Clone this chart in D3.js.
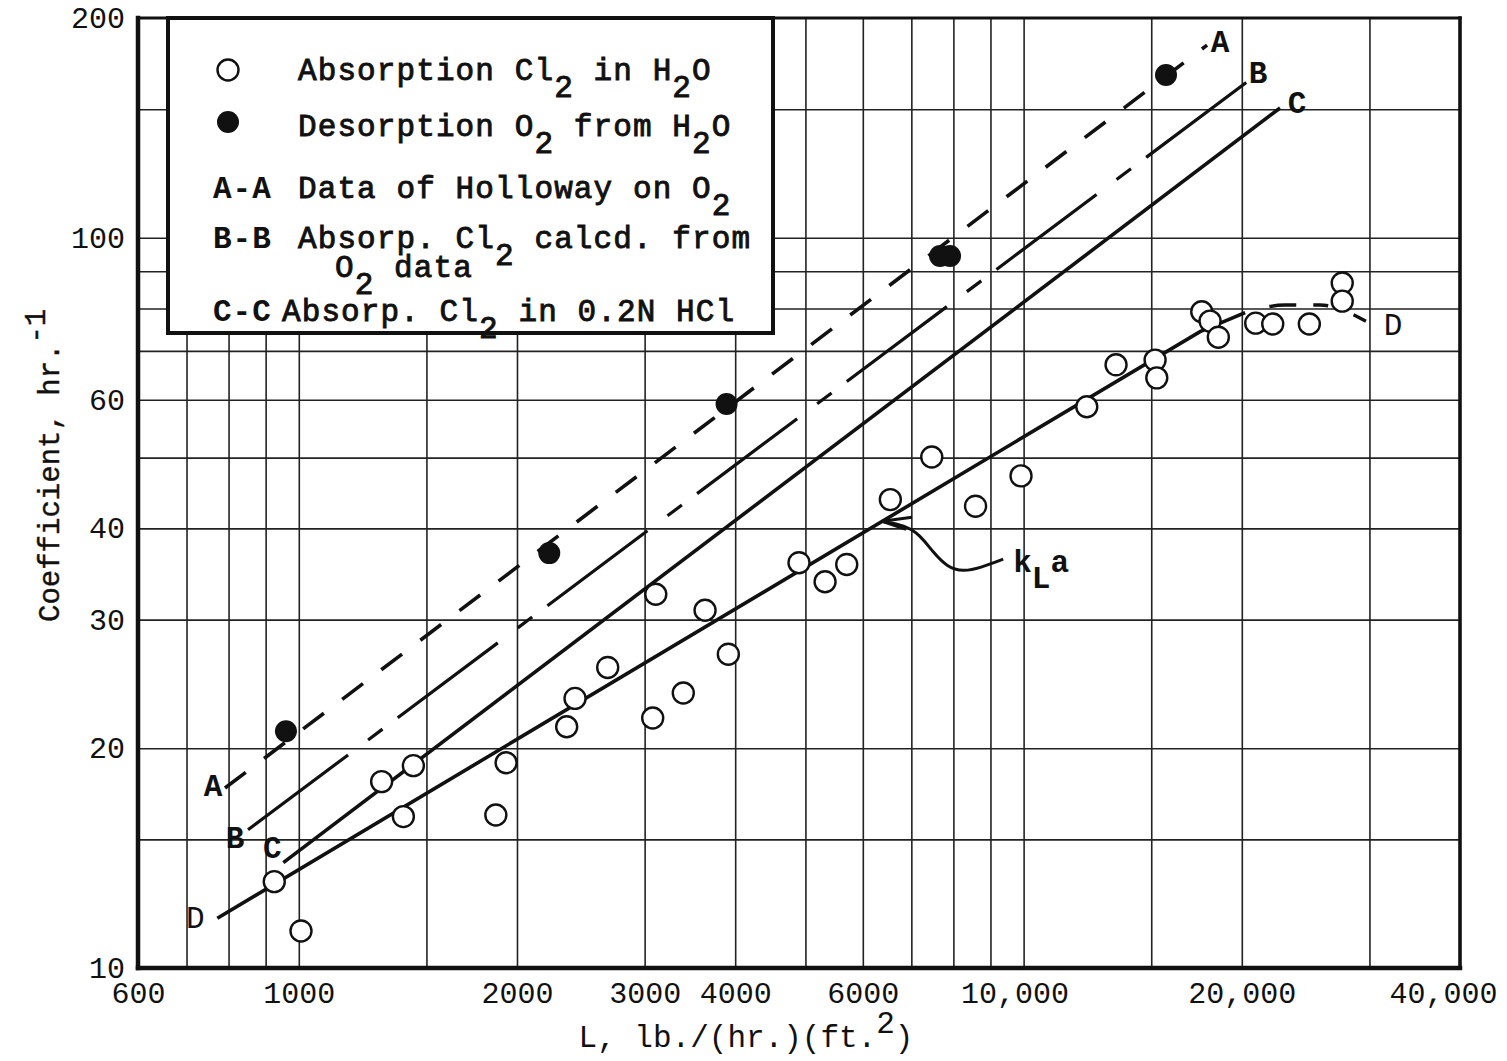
<!DOCTYPE html>
<html>
<head>
<meta charset="utf-8">
<script src="https://cdn.jsdelivr.net/npm/d3@7"></script>
<style>
  html, body { margin: 0; padding: 0; background: #fff; }
  svg { display: block; }
  text { font-family: "Liberation Mono", "Courier New", monospace; fill: #111; white-space: pre; }
</style>
</head>
<body>
<svg id="chart" width="1507" height="1061"></svg>
<script>
// Absorption of Cl2 in water (open circles): L, lb./(hr.)(ft.2) and coefficient, hr.^-1
const absorptionL = [925, 1007, 1301, 1394, 1439, 1870, 1932, 2342, 2405, 2668, 3078, 3108, 3392, 3635, 3914,
                     4899, 5322, 5701, 6548, 7469, 8584, 9918, 12222, 13413, 15184, 15266, 17610, 18081, 18562,
                     20904, 22065, 24786, 27516, 27516];
const absorptionK = [13.13, 11.24, 18.0, 16.12, 18.93, 16.2, 19.1, 21.4, 23.4, 25.8, 22.0, 32.5, 23.8, 30.9, 26.9,
                     35.9, 33.8, 35.7, 43.8, 50.1, 42.9, 47.2, 58.7, 67.0, 68.0, 64.3, 79.2, 76.9, 73.1,
                     76.4, 76.2, 76.2, 86.7, 81.9];

// Desorption of O2 from water (filled circles)
const desorptionL = [960, 2216, 3892, 7669, 7916, 15720];
const desorptionK = [21.1, 37.0, 59.2, 94.4, 94.4, 167.1];

// Correlation lines (end points)
const lineAL = [791, 17910],  lineAK = [17.64, 183.6];   // A-A  Holloway, O2
const lineBL = [851, 20334],  lineBK = [15.46, 163.5];   // B-B  Cl2 calculated from O2
const lineCL = [952, 22586],  lineCK = [13.94, 150.6];   // C-C  Cl2 in 0.2N HCl
// D: kLa curve through the Cl2-in-water points, solid then dashed where it levels off
const lineDSolidL = [772, 17516, 20209], lineDSolidK = [11.70, 74.4, 79.0];
const lineDDashL = [20209, 22945, 25645, 29773], lineDDashK = [79.0, 80.9, 80.9, 76.7];

// kLa pointer curve
const pointerL = [9371, 8707, 8250, 7844, 7500, 7194, 6860, 6378];
const pointerK = [36.3, 35.3, 34.9, 35.4, 37.1, 39.2, 40.4, 40.9];

// Axis ticks and grid
const xTickLabels = [600, 1000, 2000, 3000, 4000, 6000, 10000, 20000, 40000];
const yTickLabels = [10, 20, 30, 40, 60, 100, 200];
const xGrid = [700, 800, 900, 1000, 1500, 2000, 3000, 4000, 5000, 6000, 7000, 8000, 9000, 10000, 15000, 20000, 30000];
const yGrid = [15, 20, 30, 40, 50, 60, 70, 80, 90, 100, 150];

// Legend rows ("_x" = subscript character)
const legendKeys = ["open", "filled", "A-A", "B-B", "", "C-C"];
const legendTexts = ["Absorption Cl_2 in H_2O", "Desorption O_2 from H_2O", "Data of Holloway on O_2",
                     "Absorp. Cl_2 calcd. from", "O_2 data", "Absorp. Cl_2 in 0.2N HCl"];

const zip = (a, b) => a.map((v, i) => [v, b[i]]);

const svg = d3.select("#chart");
const ink = "#111";

const x = d3.scaleLog().domain([600, 40000]).range([138, 1460]);
const y = d3.scaleLog().domain([10, 200]).range([968, 18]);

// typewriter-style text with half-line sub/superscripts
function rich(sel, str, shift) {
  let cur = "", off = 0;
  const flush = () => { if (cur) { sel.append("tspan").attr("dy", -off).text(cur); off = 0; cur = ""; } };
  for (let i = 0; i < str.length; i++) {
    const c = str[i];
    if (c === "_" || c === "^") {
      flush();
      const o = c === "_" ? shift : -shift;
      sel.append("tspan").attr("dy", o - off).text(str[i + 1]);
      off = o; i++;
    } else cur += c;
  }
  flush();
  return sel;
}

// ---- grid ----
svg.append("g")
  .attr("transform", `translate(0,${y(10)})`)
  .call(d3.axisBottom(x).tickValues(xGrid).tickSize(-(y(10) - y(200))).tickFormat(""))
  .call(g => g.select(".domain").remove())
  .selectAll("line").attr("stroke", "#222").attr("stroke-width", 1.6);

svg.append("g")
  .attr("transform", `translate(${x(600)},0)`)
  .call(d3.axisLeft(y).tickValues(yGrid).tickSize(-(x(40000) - x(600))).tickFormat(""))
  .call(g => g.select(".domain").remove())
  .selectAll("line").attr("stroke", "#222").attr("stroke-width", 1.6);

// ---- lines ----
const line = d3.line().x(d => x(d[0])).y(d => y(d[1]));
const lines = svg.append("g").attr("fill", "none").attr("stroke", ink).attr("stroke-linecap", "butt");

lines.append("path").attr("d", line(zip(lineAL, lineAK)))
  .attr("stroke-width", 3.6).attr("stroke-dasharray", "26,23");
lines.append("path").attr("d", line(zip(lineBL, lineBK)))
  .attr("stroke-width", 3.2).attr("stroke-dasharray", "125,25,18,19");
lines.append("path").attr("d", line(zip(lineCL, lineCK)))
  .attr("stroke-width", 3.6);
lines.append("path").attr("d", line(zip(lineDSolidL, lineDSolidK)))
  .attr("stroke-width", 3.6);
lines.append("path").attr("d", line.curve(d3.curveMonotoneX)(zip(lineDDashL, lineDDashK)))
  .attr("stroke-width", 3.4).attr("stroke-dasharray", "0,25,27,17,15,27,14,40");
line.curve(d3.curveLinear);

// kLa pointer
const pointer = zip(pointerL, pointerK);
lines.append("path")
  .attr("d", d3.line().x(d => x(d[0])).y(d => y(d[1])).curve(d3.curveBasis)(pointer))
  .attr("stroke-width", 3);
const tip = pointer[pointer.length - 1];
const tx = x(tip[0]), ty = y(tip[1]);
lines.append("path")
  .attr("d", `M${tx + 30},${ty - 4}L${tx},${ty}L${tx + 24},${ty + 8}`)
  .attr("stroke-width", 3);

// ---- points ----
svg.append("g").selectAll("circle")
  .data(zip(absorptionL, absorptionK))
  .join("circle")
  .attr("cx", d => x(d[0])).attr("cy", d => y(d[1])).attr("r", 10.5)
  .attr("fill", "#fff").attr("stroke", ink).attr("stroke-width", 2.4);

svg.append("g").selectAll("circle")
  .data(zip(desorptionL, desorptionK))
  .join("circle")
  .attr("cx", d => x(d[0])).attr("cy", d => y(d[1])).attr("r", 11)
  .attr("fill", ink);

// ---- line labels ----
const labelFont = 31;
function lineLabel(L, K, dx, dy, txt, bold) {
  svg.append("text")
    .attr("x", x(L) + dx).attr("y", y(K) + dy)
    .attr("text-anchor", "middle")
    .attr("font-size", labelFont)
    .attr("font-weight", bold ? 700 : 400)
    .text(txt);
}
lineLabel(lineAL[0], lineAK[0], -12, 8, "A", true);
lineLabel(lineAL[1], lineAK[1], 13, 7, "A", true);
lineLabel(lineBL[0], lineBK[0], -13, 18, "B", true);
lineLabel(lineBL[1], lineBK[1], 11, 1, "B", true);
lineLabel(lineCL[0], lineCK[0], -11, -5, "C", true);
lineLabel(lineCL[1], lineCK[1], 17, 5, "C", true);
lineLabel(lineDSolidL[0], lineDSolidK[0], -22, 10, "D", false);
lineLabel(lineDDashL[lineDDashL.length - 1], lineDDashK[lineDDashK.length - 1], 26, 13, "D", false);

// kLa text
rich(svg.append("text")
  .attr("x", x(pointerL[0]) + 10).attr("y", y(pointerK[0]) + 13)
  .attr("font-size", labelFont).attr("font-weight", 700), "k_La", 16);

// ---- legend ----
const legend = svg.append("g");
legend.append("rect")
  .attr("x", 168).attr("y", 18).attr("width", 605).attr("height", 315)
  .attr("fill", "#fff").attr("stroke", "none");

const rowY = [80, 136, 198, 248, 277, 321];
legendKeys.forEach((k, i) => {
  let tx0 = 298;
  if (k === "open") {
    legend.append("circle").attr("cx", 228).attr("cy", rowY[i] - 10).attr("r", 10.5)
      .attr("fill", "#fff").attr("stroke", ink).attr("stroke-width", 2.4);
  } else if (k === "filled") {
    legend.append("circle").attr("cx", 228).attr("cy", rowY[i] - 14).attr("r", 11).attr("fill", ink);
  } else if (k) {
    legend.append("text").attr("x", 213).attr("y", rowY[i])
      .attr("font-size", labelFont).attr("font-weight", 700).attr("letter-spacing", 1).text(k);
    if (k === "C-C") tx0 = 282;
  } else {
    tx0 = 335;
  }
  rich(legend.append("text").attr("x", tx0).attr("y", rowY[i])
    .attr("font-size", labelFont).attr("font-weight", 400)
    .attr("stroke", ink).attr("stroke-width", 0.9)
    .attr("letter-spacing", 1.1), legendTexts[i], 17);
});
legend.append("rect")
  .attr("x", 168).attr("y", 18).attr("width", 605).attr("height", 315)
  .attr("fill", "none").attr("stroke", ink).attr("stroke-width", 4);

// ---- frame ----
const frame = svg.append("g").attr("stroke", ink).attr("stroke-linecap", "square");
frame.append("line").attr("x1", x(600)).attr("x2", x(600)).attr("y1", y(200)).attr("y2", y(10)).attr("stroke-width", 4.5);
frame.append("line").attr("x1", x(600)).attr("x2", x(40000)).attr("y1", y(10)).attr("y2", y(10)).attr("stroke-width", 4.5);
frame.append("line").attr("x1", x(600)).attr("x2", x(40000)).attr("y1", y(200)).attr("y2", y(200)).attr("stroke-width", 3.2);
frame.append("line").attr("x1", x(40000)).attr("x2", x(40000)).attr("y1", y(200)).attr("y2", y(10)).attr("stroke-width", 3.6);

// ---- axes labels ----
const fmtX = d => d >= 10000 ? d3.format(",")(d) : String(d);
const xShift = { 10000: -9, 40000: -17 };
svg.append("g")
  .attr("transform", `translate(0,${y(10)})`)
  .call(d3.axisBottom(x).tickValues(xTickLabels).tickSize(0).tickPadding(14).tickFormat(fmtX))
  .call(g => g.select(".domain").remove())
  .call(g => g.selectAll("text")
    .attr("font-family", "Liberation Mono, monospace").attr("font-size", 30).attr("fill", ink)
    .attr("dx", d => xShift[d] || 0));

svg.append("g")
  .attr("transform", `translate(${x(600)},0)`)
  .call(d3.axisLeft(y).tickValues(yTickLabels).tickSize(0).tickPadding(13).tickFormat(d3.format("d")))
  .call(g => g.select(".domain").remove())
  .call(g => g.selectAll("text")
    .attr("font-family", "Liberation Mono, monospace").attr("font-size", 30).attr("fill", ink));

// axis titles
rich(svg.append("text")
  .attr("x", 746).attr("y", 1047).attr("text-anchor", "middle")
  .attr("font-size", 31), "L, lb./(hr.)(ft.^2)", 14);

rich(svg.append("text")
  .attr("transform", "translate(59,622) rotate(-90)")
  .attr("font-size", 29).attr("stroke", ink).attr("stroke-width", 0.4), "Coefficient, hr.^-^1", 14);
</script>
</body>
</html>
